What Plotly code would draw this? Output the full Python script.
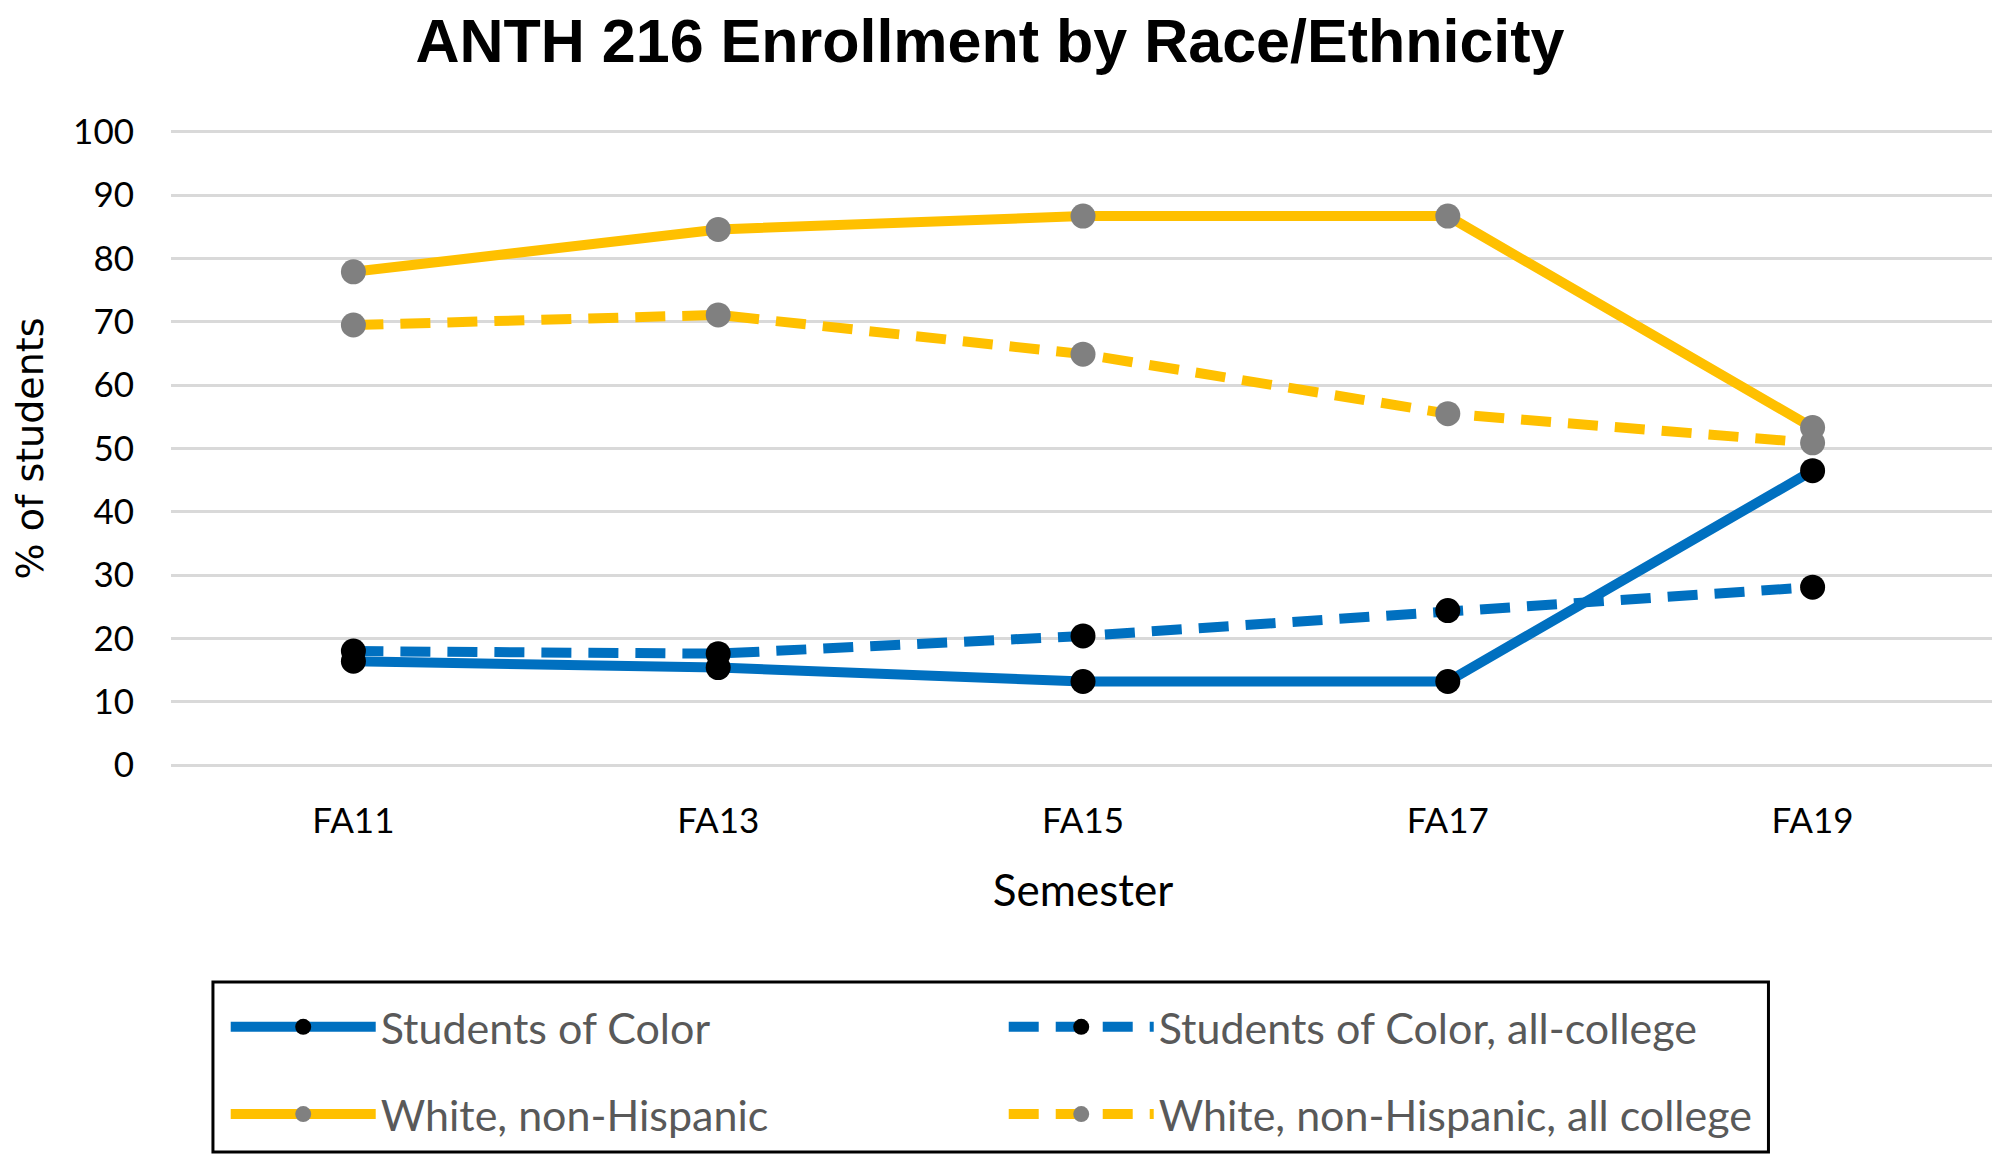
import plotly.graph_objects as go

semesters = ["FA11", "FA13", "FA15", "FA17", "FA19"]
soc = [16.4, 15.4, 13.2, 13.2, 46.5]
soc_college = [18.0, 17.6, 20.4, 24.4, 28.1]
white = [77.9, 84.6, 86.7, 86.7, 53.3]
white_college = [69.5, 71.1, 64.9, 55.5, 50.9]
y_ticks = [0, 10, 20, 30, 40, 50, 60, 70, 80, 90, 100]

BLUE = "#0070C0"
YELLOW = "#FFC000"
DASH = "30px,17px"
LW = 10
MS = 25

fig = go.Figure()
series = [
    ("Students of Color", soc, BLUE, "solid", "black", "legend"),
    ("Students of Color, all-college", soc_college, BLUE, DASH, "black", "legend"),
    ("White, non-Hispanic", white, YELLOW, "solid", "#808080", "legend2"),
    ("White, non-Hispanic, all college", white_college, YELLOW, DASH, "#808080", "legend2"),
]
for name, vals, col, dash, mcol, leg in series:
    fig.add_trace(go.Scatter(
        x=semesters, y=vals, name=name, mode="lines+markers",
        line=dict(color=col, width=LW, dash=dash),
        marker=dict(color=mcol, size=MS, line=dict(width=0)),
        legend=leg,
    ))

legend_common = dict(
    orientation="h", xanchor="left", yanchor="middle", x=0.03,
    font=dict(family="Lato", size=43, color="#595959"),
    itemwidth=145, entrywidth=618, bgcolor="rgba(0,0,0,0)", borderwidth=0,
)

fig.update_layout(
    width=2000, height=1159,
    margin=dict(l=159, r=13, t=122, b=400),
    paper_bgcolor="white", plot_bgcolor="white",
    title=dict(text="<b>ANTH 216 Enrollment by Race/Ethnicity</b>", x=0.491, xanchor="center",
               y=0.99, yanchor="top", pad=dict(t=0, b=0),
               font=dict(family="Liberation Sans", size=61, color="black")),
    xaxis=dict(
        range=[-0.5, 4.5], showgrid=False, showline=False, zeroline=False,
        tickfont=dict(family="Lato", size=35, color="black"),
        ticks="", ticklabelstandoff=30,
        title=dict(text="Semester", font=dict(family="Lato", size=44, color="black"), standoff=36),
    ),
    yaxis=dict(
        range=[-0.3, 100.3], tickvals=y_ticks, showgrid=True, gridcolor="#D9D9D9", gridwidth=2.5,
        zeroline=True, zerolinecolor="#D9D9D9", zerolinewidth=2.5,
        showline=False, ticks="", ticklabelstandoff=36,
        tickfont=dict(family="Lato", size=35, color="black"),
        title=dict(text="% of students", font=dict(family="DejaVu Sans", size=38, color="black"), standoff=26),
    ),
    legend=dict(y=-0.408, **legend_common),
    legend2=dict(y=-0.545, **legend_common),
    shapes=[dict(type="rect", xref="paper", yref="paper", x0=0.023, x1=0.8758,
                 y0=-0.3375, y1=-0.6044, line=dict(color="black", width=3))],
)

fig.write_html("out.html")
